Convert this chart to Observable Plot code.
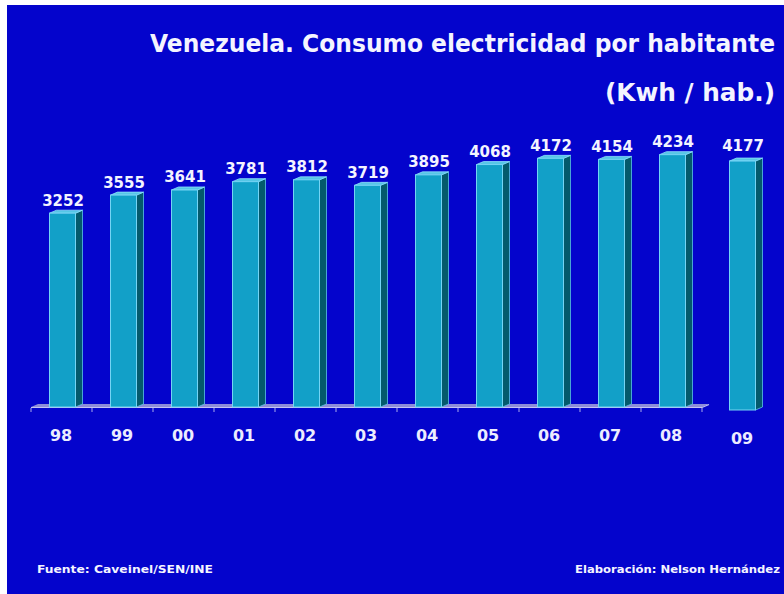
<!DOCTYPE html>
<html><head><meta charset="utf-8">
<script src="https://cdn.jsdelivr.net/npm/d3@7"></script>
<script src="https://cdn.jsdelivr.net/npm/@observablehq/plot@0.6"></script>
<style>
html,body{margin:0;padding:0;background:#fff;width:784px;height:594px;overflow:hidden}
#bg{position:absolute;left:7px;top:5px;width:777px;height:589px;background:#0404cc}
.t{position:absolute;white-space:nowrap;font-family:"DejaVu Sans",sans-serif;font-weight:bold;color:#f4f4ff;line-height:1;transform-origin:left top}
#chart{position:absolute;left:0;top:0}
</style></head><body>
<div id="bg"></div>
<div id="chart"></div>
<div class="t" id="t1">Venezuela. Consumo electricidad por habitante</div>
<div class="t" id="t2">(Kwh / hab.)</div>
<div class="t" id="f1">Fuente: Caveinel/SEN/INE</div>
<div class="t" id="f2">Elaboración: Nelson Hernández</div>
<script>
// ---- data ----
const years = ["98","99","00","01","02","03","04","05","06","07","08","09"];
const consumo = [3252,3555,3641,3781,3812,3719,3895,4068,4172,4154,4234,4177];
const floorYears = years.slice(0, 11);   // years standing on the chart floor
const detachedYears = ["09"];            // year drawn apart, right of the floor

const table = years.map((y, i) => ({year: y, value: consumo[i]}));
const onFloor = table.filter(d => !detachedYears.includes(d.year));
const detached = table.filter(d => detachedYears.includes(d.year));

// ---- style ----
const DEPTH_X = 7, DEPTH_Y = 3, FRONT_W = 26, FRONT_SHIFT = 1;
const DET_DX = 9, DET_DY = 3;

function floorMark(index, scales) {
  const x = scales.x, y = scales.y;
  const bw = typeof x.bandwidth === "function" ? x.bandwidth() : x.bandwidth;
  const base = y(0);
  const x0 = x(floorYears[0]), x1 = x(floorYears[floorYears.length - 1]) + bw;
  const g = d3.create("svg:g");
  g.append("path")
    .attr("d", `M${x0},${base}L${x0 + DEPTH_X},${base - DEPTH_Y}L${x1 + DEPTH_X},${base - DEPTH_Y}L${x1},${base}Z`)
    .attr("fill", "#8e8ed8");
  g.append("path")
    .attr("d", `M${x0},${base + 0.5}L${x1},${base + 0.5}L${x1 + DEPTH_X},${base - DEPTH_Y + 0.5}`)
    .attr("fill", "none").attr("stroke", "#c4c4f4").attr("stroke-width", 1.2);
  const ticks = floorYears.map(v => x(v)).concat([x1]);
  for (const t of ticks) {
    g.append("line").attr("x1", t).attr("x2", t).attr("y1", base + 1).attr("y2", base + 5)
      .attr("stroke", "#a8a8ec").attr("stroke-width", 1);
  }
  return g.node();
}

function barsMark(index, scales) {
  const x = scales.x, y = scales.y;
  const bw = typeof x.bandwidth === "function" ? x.bandwidth() : x.bandwidth;
  const g = d3.create("svg:g");
  for (const d of table) {
    const det = detachedYears.includes(d.year);
    const cx = x(d.year) + bw / 2 + FRONT_SHIFT + (det ? DET_DX : 0);
    const off = det ? DET_DY : 0;
    const top = y(d.value) + off, base = y(0) + off;
    const l = cx - FRONT_W / 2, r = cx + FRONT_W / 2;
    // side
    g.append("path")
      .attr("d", `M${r},${top}L${r + DEPTH_X},${top - DEPTH_Y}L${r + DEPTH_X},${base - DEPTH_Y}L${r},${base}Z`)
      .attr("fill", "#045a6c").attr("stroke", "#5cc4e4").attr("stroke-width", 0.8);
    // top
    g.append("path")
      .attr("d", `M${l},${top}L${l + DEPTH_X},${top - DEPTH_Y}L${r + DEPTH_X},${top - DEPTH_Y}L${r},${top}Z`)
      .attr("fill", "#56c6e6").attr("stroke", "#8ee0fa").attr("stroke-width", 0.8);
    // front
    g.append("rect").attr("x", l).attr("y", top).attr("width", FRONT_W).attr("height", base - top)
      .attr("fill", "#12a0c8").attr("stroke", "#74d4f4").attr("stroke-width", 1);
  }
  return g.node();
}

const txt = {fontFamily: "DejaVu Sans, sans-serif", fontWeight: "bold", fill: "#f4f4ff"};

const chart = Plot.plot({
  width: 784, height: 480,
  marginLeft: 28.8, marginRight: 18.4, marginTop: 109, marginBottom: 73,
  style: {background: "transparent", overflow: "visible"},
  x: {type: "band", domain: years, padding: 0, axis: null},
  y: {domain: [0, 5000], axis: null},
  marks: [
    floorMark,
    barsMark,
    Plot.text(onFloor, {x: "year", y: "value", text: d => String(d.value), dx: FRONT_SHIFT, dy: -8, lineAnchor: "bottom", fontSize: 15, ...txt}),
    Plot.text(detached, {x: "year", y: "value", text: d => String(d.value), dx: FRONT_SHIFT + DET_DX, dy: -8, lineAnchor: "bottom", fontSize: 15, ...txt}),
    Plot.text(onFloor, {x: "year", y: () => 0, text: "year", dx: -1, dy: 28, lineAnchor: "middle", fontSize: 16, ...txt, fill: "#ececff"}),
    Plot.text(detached, {x: "year", y: () => 0, text: "year", dx: DET_DX, dy: 31, lineAnchor: "middle", fontSize: 16, ...txt, fill: "#ececff"})
  ]
});
document.getElementById("chart").appendChild(chart);

function place(id, fs, left, width, baseline) {
  const el = document.getElementById(id);
  el.style.fontSize = fs + "px";
  const w = el.getBoundingClientRect().width;
  el.style.left = left + "px";
  el.style.top = (baseline - 0.846 * fs) + "px";
  el.style.transform = `scaleX(${width / w})`;
}
place("t1", 25, 150, 625, 52);
place("t2", 25, 605, 170, 101);
place("f1", 11, 37, 176, 573);
place("f2", 11, 575, 205, 573);
</script>
</body></html>
